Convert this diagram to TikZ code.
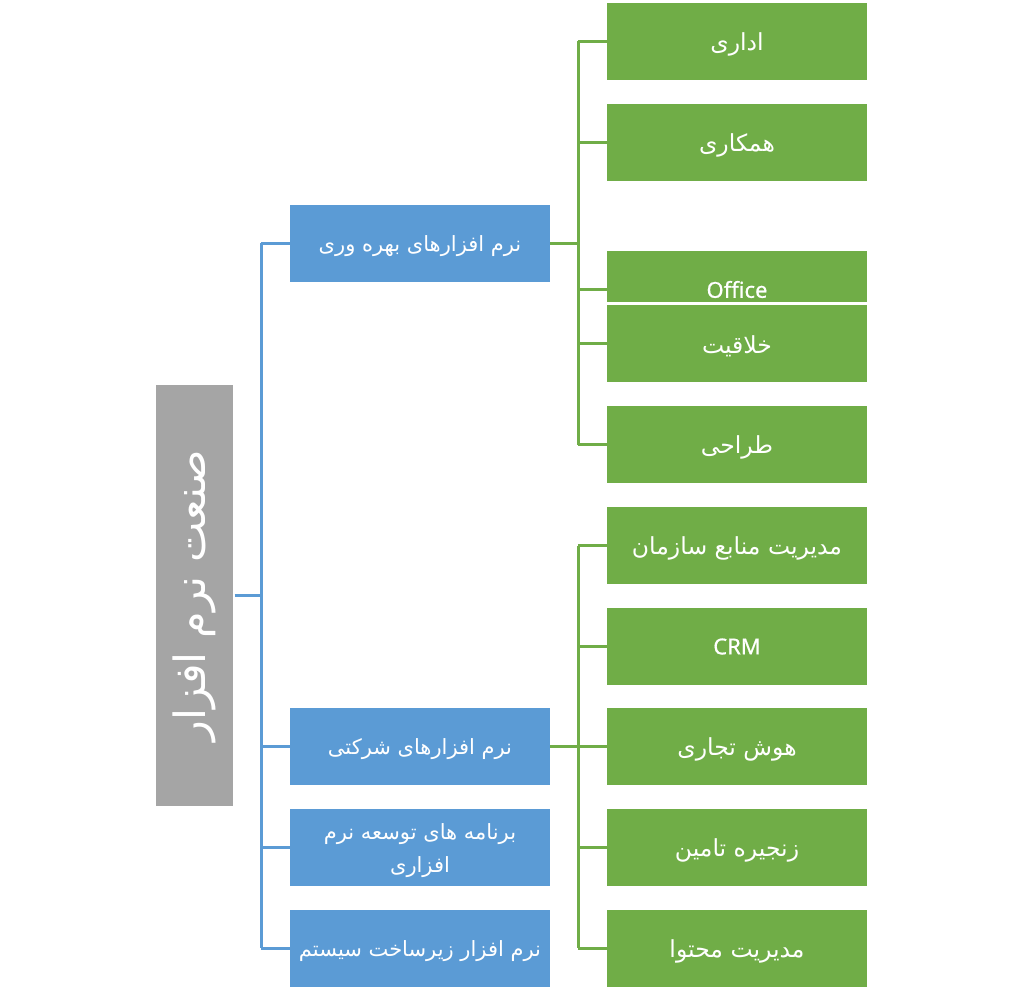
\documentclass[tikz,border=0pt]{standalone}
\usepackage{fontspec}
\setmainfont{Noto Sans}
\newfontfamily\latinfont[FakeBold=0.6]{Noto Sans}
\newfontfamily\arabicfont[Script=Arabic]{DejaVu Sans}
\TeXXeTstate=1
\definecolor{cgreen}{HTML}{70AD47}
\definecolor{cblue}{HTML}{5B9BD5}
\definecolor{cgray}{HTML}{A5A5A5}
\newcommand{\fa}[1]{{\arabicfont\beginR #1\endR}}
\newcommand{\fas}[1]{\raisebox{-3pt}[\height][\depth]{\arabicfont\beginR #1\endR}}
\begin{document}
\begin{tikzpicture}[x=1pt,y=-1pt,
  box/.style={draw=white,line width=3pt,inner sep=0pt,outer sep=0pt,text=white,align=center},
  gbox/.style={box,fill=cgreen,minimum width=263pt,minimum height=80pt,font=\fontsize{23.5}{28}\selectfont},
  bbox/.style={box,fill=cblue,minimum width=263pt,minimum height=80pt,font=\fontsize{21}{33}\selectfont},
  lbox/.style={gbox,font=\fontsize{22}{26}\selectfont\latinfont},
  blink/.style={cblue,line width=3pt},
  glink/.style={cgreen,line width=3pt}]
\useasboundingbox (0,0) rectangle (1024,990);
% root
\node[box,fill=cgray,minimum width=80pt,minimum height=424pt] (root) at (194.5,595.5)
  {\rotatebox{90}{\fontsize{43}{50}\selectfont\fa{صنعت نرم افزار}}};
% blue
\node[bbox] (b1) at (420,243) {\fas{نرم افزارهای بهره وری}};
\node[bbox] (b2) at (420,746.5) {\fas{نرم افزارهای شرکتی}};
\node[bbox] (b3) at (420,847.5) {\fas{برنامه های توسعه نرم}\\\fas{افزاری}};
\node[bbox] (b4) at (420,948) {\fas{نرم افزار زیرساخت سیستم}};
% green group 1
\node[gbox] (g1) at (737,41.5) {\fas{اداری}};
\node[gbox] (g2) at (737,142.5) {\fas{همکاری}};
\node[lbox] (g3) at (737,289.5) {Office};
\node[gbox] (g4) at (737,343.5) {\fas{خلاقیت}};
\node[gbox] (g5) at (737,444.5) {\fas{طراحی}};
% green group 2
\node[gbox] (h1) at (737,545.5) {\fas{مدیریت منابع سازمان}};
\node[lbox] (h2) at (737,646.5) {CRM};
\node[gbox] (h3) at (737,746.5) {\fas{هوش تجاری}};
\node[gbox] (h4) at (737,847.5) {\fas{زنجیره تامین}};
\node[gbox] (h5) at (737,948) {\fas{مدیریت محتوا}};
% trunks
\coordinate (t0) at (261,595.5);
\coordinate (t1) at (578,243);
\coordinate (t2) at (578,746.5);
\draw[blink] (root.east) -- (t0);
\draw[blink] (b1.west -| t0) -- (b4.west -| t0);
\foreach \n in {b1,b2,b3,b4} \draw[blink] (\n.west -| t0) -- ([xshift=1.5pt]\n.west);
\draw[glink] ([xshift=-1.5pt]b1.east) -- (t1);
\draw[glink] (g1.west -| t1) -- (g5.west -| t1);
\foreach \n in {g1,g2,g3,g4,g5} \draw[glink] (\n.west -| t1) -- ([xshift=1.5pt]\n.west);
\draw[glink] ([xshift=-1.5pt]b2.east) -- (t2);
\draw[glink] (h1.west -| t2) -- (h5.west -| t2);
\foreach \n in {h1,h2,h3,h4,h5} \draw[glink] (\n.west -| t2) -- ([xshift=1.5pt]\n.west);
\end{tikzpicture}
\end{document}
